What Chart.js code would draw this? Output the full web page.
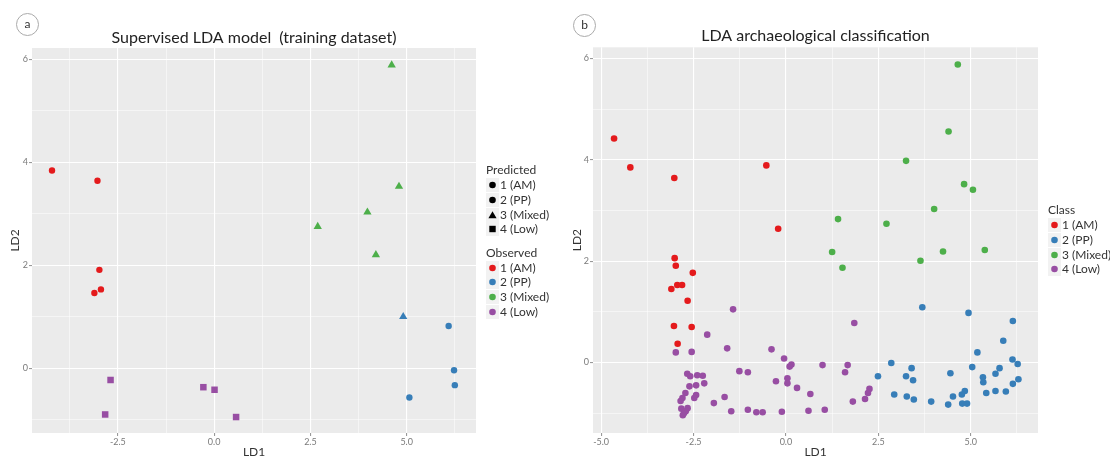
<!DOCTYPE html>
<html>
<head>
<meta charset="utf-8">
<script src="https://cdn.jsdelivr.net/npm/chart.js@4.4.1/dist/chart.umd.min.js"></script>
<style>
  body { margin: 0; background: #fff; font-family: Lato, sans-serif; }
  #wrap { position: relative; width: 1110px; height: 457px; overflow: hidden; }
  canvas { position: absolute; top: 0; }
  .tag { position: absolute; width: 21px; height: 21px; border: 1px solid #aaa; border-radius: 50%;
         text-align: center; line-height: 19px; font-size: 12px; color: #333; }
  .lg { position: absolute; font-size: 12px; color: #333; white-space: nowrap; line-height: 14px; }
</style>
</head>
<body>
<div id="wrap">
  <canvas id="chartA" width="560" height="457" style="left:0"></canvas>
  <canvas id="chartB" width="550" height="457" style="left:560px"></canvas>
  <div class="tag" style="left:16px;top:13px">a</div>
  <div class="tag" style="left:573px;top:14px">b</div>
</div>
<script>
// classes
const classNames = ["1 (AM)", "2 (PP)", "3 (Mixed)", "4 (Low)"];
const classColors = ["#E41A1C", "#377EB8", "#4DAF4A", "#984EA3"];

// panel a - training dataset (observed class, predicted class)
const trainLD1 = [-4.21, -3.03, -2.98, -2.94, -3.11, 4.61, 4.80, 3.98, 2.69, 4.20, 4.91, 6.09, 6.23, 6.25, 5.07, -2.69, -2.83, -0.28, 0.01, 0.57];
const trainLD2 = [3.84, 3.64, 1.91, 1.53, 1.46, 5.89, 3.53, 3.03, 2.75, 2.20, 1.00, 0.82, -0.04, -0.33, -0.57, -0.23, -0.90, -0.37, -0.42, -0.95];
const trainObserved = [1, 1, 1, 1, 1, 3, 3, 3, 3, 3, 2, 2, 2, 2, 2, 4, 4, 4, 4, 4];
const trainPredicted = [1, 1, 1, 1, 1, 3, 3, 3, 3, 3, 3, 2, 2, 2, 2, 4, 4, 4, 4, 4];

// panel b - archaeological samples
const amLD1 = [-4.65, -4.21, -3.02, -0.53, -0.21, -3.01, -2.98, -2.52, -3.10, -2.94, -2.81, -2.66, -3.03, -2.55, -2.93];
const amLD2 = [4.42, 3.85, 3.64, 3.89, 2.64, 2.06, 1.91, 1.77, 1.45, 1.53, 1.53, 1.22, 0.72, 0.70, 0.37];
const ppLD1 = [3.69, 4.94, 6.14, 5.88, 5.18, 6.13, 6.27, 2.85, 3.40, 5.04, 5.78, 5.67, 4.45, 2.49, 3.25, 5.33, 3.44, 5.34, 6.29, 6.14, 4.84, 5.42, 5.67, 5.95, 2.93, 3.27, 4.52, 4.76, 3.46, 3.93, 4.39, 4.77, 4.90];
const ppLD2 = [1.09, 0.98, 0.82, 0.43, 0.20, 0.06, -0.03, -0.01, -0.11, -0.09, -0.11, -0.22, -0.21, -0.27, -0.27, -0.29, -0.35, -0.39, -0.33, -0.42, -0.56, -0.60, -0.56, -0.57, -0.63, -0.67, -0.67, -0.63, -0.73, -0.77, -0.83, -0.81, -0.81];
const mixedLD1 = [4.65, 4.40, 3.25, 4.82, 5.06, 4.01, 1.41, 2.72, 1.25, 1.53, 3.64, 4.25, 5.38];
const mixedLD2 = [5.88, 4.56, 3.98, 3.52, 3.41, 3.03, 2.83, 2.74, 2.18, 1.87, 2.01, 2.19, 2.22];
const lowLD1 = [-1.43, 1.85, -2.13, -1.59, -0.39, -2.98, -2.55, -0.05, 0.15, 0.10, 0.99, 1.67, -1.26, -1.03, 1.60, -2.67, -2.59, -2.40, -2.25, 0.04, -0.27, -2.21, 0.04, -2.61, -2.43, 0.30, 2.26, 2.22, -2.72, -2.43, -2.48, 0.66, -1.66, -2.80, -2.85, -1.95, 1.81, 2.14, -2.66, -2.83, -2.71, -2.76, -2.79, -1.48, -1.03, -0.80, -0.63, -0.11, 0.61, 1.05];
const lowLD2 = [1.05, 0.78, 0.55, 0.28, 0.26, 0.20, 0.21, 0.08, -0.04, -0.08, -0.05, -0.05, -0.17, -0.19, -0.19, -0.22, -0.27, -0.25, -0.26, -0.31, -0.37, -0.41, -0.41, -0.47, -0.45, -0.50, -0.52, -0.60, -0.60, -0.64, -0.70, -0.62, -0.68, -0.70, -0.76, -0.80, -0.77, -0.72, -0.90, -0.91, -0.96, -1.00, -1.04, -0.96, -0.93, -0.98, -0.98, -0.97, -0.95, -0.93];

// axis ticks
const xMajorStep = 2.5, xMinorStep = 1.25;
const yMajorStep = 2, yMinorStep = 1;

Chart.defaults.font.family = 'Lato, sans-serif';

// shape used for each predicted class
const predShape = ['circle', 'circle', 'triangle', 'rect'];
const predRadius = [3.2, 3.2, 4.8, 4.6];

function isMajor(v, step) {
  const r = v / step;
  return Math.abs(r - Math.round(r)) < 1e-6;
}

// grey ggplot panel
const panelBg = {
  id: 'panelBg',
  beforeDraw(chart) {
    const a = chart.chartArea, ctx = chart.ctx;
    ctx.save();
    ctx.fillStyle = '#EBEBEB';
    ctx.fillRect(a.left, a.top, a.right - a.left, a.bottom - a.top);
    ctx.restore();
  }
};

function scales(xr, yr, yWidth, yTitlePad) {
  return {
    x: {
      type: 'linear', min: xr[0], max: xr[1],
      border: { display: false },
      grid: {
        color: '#fff',
        lineWidth: c => (c.tick && isMajor(c.tick.value, xMajorStep)) ? 1.1 : 0.5,
        tickLength: 3,
        tickColor: c => (c.tick && isMajor(c.tick.value, xMajorStep)) ? '#999' : 'rgba(0,0,0,0)'
      },
      ticks: {
        stepSize: xMinorStep, includeBounds: false, maxTicksLimit: 40, autoSkip: false,
        maxRotation: 0, padding: 1, color: '#7a7a7a', font: { size: 9 },
        callback: v => isMajor(v, xMajorStep) ? (Math.abs(v) < 1e-9 ? 0 : v).toFixed(1) : ''
      },
      title: { display: true, text: 'LD1', color: '#333', font: { size: 12, lineHeight: 1 }, padding: { top: 0, bottom: -1 } },
      afterFit: s => { s.height = 24; }
    },
    y: {
      type: 'linear', min: yr[0], max: yr[1],
      border: { display: false },
      grid: {
        color: '#fff',
        lineWidth: c => (c.tick && isMajor(c.tick.value, yMajorStep)) ? 1.1 : 0.5,
        tickLength: 3,
        tickColor: c => (c.tick && isMajor(c.tick.value, yMajorStep)) ? '#999' : 'rgba(0,0,0,0)'
      },
      ticks: {
        stepSize: yMinorStep, includeBounds: false, maxTicksLimit: 40, autoSkip: false,
        padding: 1, color: '#7a7a7a', font: { size: 9 },
        callback: v => isMajor(v, yMajorStep) ? String(Math.round(v)) : ''
      },
      title: { display: true, text: 'LD2', color: '#333', font: { size: 12, lineHeight: 1 }, padding: { top: yTitlePad, bottom: 0 } },
      afterFit: s => { s.width = yWidth; }
    }
  };
}

function titleOpts(text, padTop, padBottom) {
  return {
    display: true, text: text, fullSize: false, color: '#222',
    font: { size: 16, weight: 'normal' }, padding: { top: padTop, bottom: padBottom }
  };
}

// panel a datasets: colour = observed, shape = predicted
const dataA = classNames.map((name, c) => {
  const idx = trainObserved.map((o, i) => o === c + 1 ? i : -1).filter(i => i >= 0);
  return {
    label: name,
    data: idx.map(i => ({ x: trainLD1[i], y: trainLD2[i] })),
    pointStyle: idx.map(i => predShape[trainPredicted[i] - 1]),
    pointRadius: idx.map(i => predRadius[trainPredicted[i] - 1]),
    backgroundColor: classColors[c],
    borderWidth: 0
  };
});

new Chart(document.getElementById('chartA'), {
  type: 'scatter',
  data: { datasets: dataA },
  options: {
    responsive: false, animation: false,
    layout: { padding: { left: 0, right: 84, top: 0, bottom: 0 } },
    plugins: {
      legend: { display: false }, tooltip: { enabled: false },
      title: titleOpts('Supervised LDA model  (training dataset)', 28.5, 0.3)
    },
    scales: scales([-4.73, 6.80], [-1.26, 6.22], 32, 9)
  },
  plugins: [panelBg]
});

const archX = [amLD1, ppLD1, mixedLD1, lowLD1];
const archY = [amLD2, ppLD2, mixedLD2, lowLD2];
const dataB = classNames.map((name, c) => ({
  label: name,
  data: archX[c].map((x, i) => ({ x: x, y: archY[c][i] })),
  pointStyle: 'circle', pointRadius: 3.3,
  backgroundColor: classColors[c], borderWidth: 0
}));

new Chart(document.getElementById('chartB'), {
  type: 'scatter',
  data: { datasets: dataB },
  options: {
    responsive: false, animation: false,
    layout: { padding: { left: 0, right: 72, top: 0, bottom: 0 } },
    plugins: {
      legend: { display: false }, tooltip: { enabled: false },
      title: titleOpts('LDA archaeological classification', 26.5, 1.6)
    },
    scales: scales([-5.22, 6.82], [-1.39, 6.22], 33, 11)
  },
  plugins: [panelBg]
});

// html legends
const wrap = document.getElementById('wrap');
const SVGNS = 'http://www.w3.org/2000/svg';
function keySvg(shape, color) {
  const svg = document.createElementNS(SVGNS, 'svg');
  svg.setAttribute('width', 13); svg.setAttribute('height', 14);
  const bg = document.createElementNS(SVGNS, 'rect');
  bg.setAttribute('width', 13); bg.setAttribute('height', 14); bg.setAttribute('fill', '#F2F2F2');
  svg.appendChild(bg);
  let el;
  if (shape === 'triangle') {
    el = document.createElementNS(SVGNS, 'polygon');
    el.setAttribute('points', '6.5,3.2 10.6,10.3 2.4,10.3');
  } else if (shape === 'rect') {
    el = document.createElementNS(SVGNS, 'rect');
    el.setAttribute('x', 3.3); el.setAttribute('y', 3.8); el.setAttribute('width', 6.4); el.setAttribute('height', 6.4);
  } else {
    el = document.createElementNS(SVGNS, 'circle');
    el.setAttribute('cx', 6.5); el.setAttribute('cy', 7); el.setAttribute('r', 3.3);
  }
  el.setAttribute('fill', color);
  svg.appendChild(el);
  return svg;
}
function legend(x, titleY, title, rowY, items) {
  const t = document.createElement('div');
  t.className = 'lg'; t.textContent = title;
  t.style.left = x + 'px'; t.style.top = (titleY - 7) + 'px';
  wrap.appendChild(t);
  items.forEach((it, i) => {
    const y = rowY[i];
    const k = keySvg(it.shape, it.color);
    k.style.position = 'absolute'; k.style.left = x + 'px'; k.style.top = (y - 7) + 'px';
    wrap.appendChild(k);
    const d = document.createElement('div');
    d.className = 'lg'; d.textContent = it.text;
    d.style.left = (x + 14) + 'px'; d.style.top = (y - 7) + 'px';
    wrap.appendChild(d);
  });
}
legend(486, 170, 'Predicted', [185, 200, 214.5, 229],
  classNames.map((n, i) => ({ text: n, shape: predShape[i], color: '#000' })));
legend(486, 252.5, 'Observed', [267.5, 282.3, 296.8, 311.5],
  classNames.map((n, i) => ({ text: n, shape: 'circle', color: classColors[i] })));
legend(1048, 210, 'Class', [225, 240, 254.5, 269.3],
  classNames.map((n, i) => ({ text: n, shape: 'circle', color: classColors[i] })));
</script>
</body>
</html>
